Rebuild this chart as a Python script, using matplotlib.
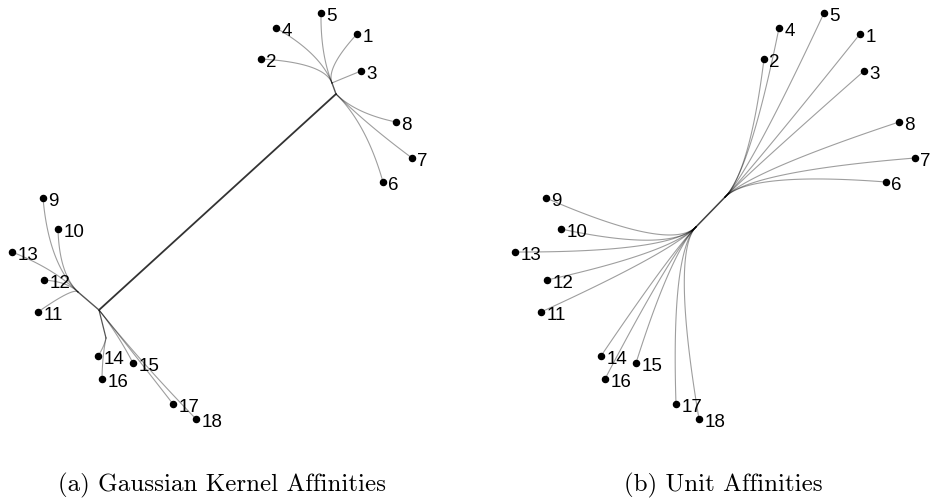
import numpy as np
import matplotlib
matplotlib.use("Agg")
from matplotlib import pyplot as plt

labels = [str(i) for i in range(1, 19)]
# embedded positions of the 18 samples (same layout in both panels)
px = [357, 261, 361, 276, 321, 383, 412, 396, 43, 58, 38, 44, 12, 98, 133, 102, 173, 196]
py = [34, 59, 71, 28, 13, 182, 158, 122, 198, 229, 312, 280, 252, 356, 363, 379, 404, 419]

# (a) gaussian kernel: internal tree nodes and where each sample hangs
hub_names_a = ["A1", "A2", "B", "B1", "B2"]
hub_x_a = [332, 336, 99, 78, 106]
hub_y_a = [83, 94, 310, 292, 338]
trunk_a = [("A1", "A2"), ("A2", "B"), ("B", "B1"), ("B", "B2")]
trunk_w_a = [1.0, 1.3, 1.0, 0.9]
parent_a = ["A1"] * 5 + ["A2"] * 3 + ["B1"] * 5 + ["B2", "B", "B2", "B", "B"]

# (b) unit affinities: one bundle between two joints
joint_x_b = [189, 226]   # lower-left, upper-right
joint_y_b = [231, 193]
side_b = [1] * 8 + [0] * 10   # 1 = hangs off the upper-right joint

captions = ["(a) Gaussian Kernel Affinities", "(b) Unit Affinities"]

EDGE = dict(color="black", alpha=0.38, lw=0.8, solid_capstyle="round")


def bezier(ctrl, n=80):
    ctrl = np.asarray(ctrl, float)
    t = np.linspace(0, 1, n)[:, None, None]
    p = np.broadcast_to(ctrl, (n,) + ctrl.shape)
    while p.shape[1] > 1:
        p = (1 - t) * p[:, :-1] + t * p[:, 1:]
    return p[:, 0, 0], p[:, 0, 1]


def unit(v):
    v = np.asarray(v, float)
    return v / np.linalg.norm(v)


def draw_points(ax):
    ax.plot(px, py, "o", color="black", ms=4.4, zorder=4)
    for lbl, x, y in zip(labels, px, py):
        ax.annotate(lbl, (x, y), xytext=(3.8, -6.1), textcoords="offset points",
                    ha="left", va="baseline", fontsize=13.5,
                    family="Liberation Sans", annotation_clip=False, zorder=5)


def draw_a(ax):
    hubs = {n: np.array([x, y], float) for n, x, y in zip(hub_names_a, hub_x_a, hub_y_a)}
    leaves = np.column_stack([px, py]).astype(float)
    for (a, b), w in zip(trunk_a, trunk_w_a):
        ax.plot([hubs[a][0], hubs[b][0]], [hubs[a][1], hubs[b][1]],
                color="#333333" if w > 1.1 else "#555555", lw=w,
                solid_capstyle="round")
    for name in hub_names_a:
        idx = [i for i, p in enumerate(parent_a) if p == name]
        if not idx:
            continue
        h = hubs[name]
        d = unit(leaves[idx].mean(axis=0) - h)
        for i in idx:
            v = leaves[i] - h
            dist = np.linalg.norm(v)
            c = max(0.0, float(np.dot(d, v / dist)))
            ctrl = h + 0.45 * dist * c * d
            xs, ys = bezier([h, ctrl, leaves[i]])
            ax.plot(xs, ys, **EDGE)


def draw_b(ax):
    lo = np.array([joint_x_b[0], joint_y_b[0]], float)
    up = np.array([joint_x_b[1], joint_y_b[1]], float)
    axis = unit(up - lo)
    leaves = np.column_stack([px, py]).astype(float)
    # shared part of the bundle
    ax.plot([lo[0], up[0]], [lo[1], up[1]], color="#404040", lw=1.1,
            solid_capstyle="round")
    for i, s in enumerate(side_b):
        if s:
            near, g = up - 6 * axis, up + 30 * axis
        else:
            near, g = lo + 6 * axis, lo - 30 * axis
        xs, ys = bezier([near, g, leaves[i]])
        ax.plot(xs, ys, **EDGE)


fig = plt.figure(figsize=(9.3, 5.0), dpi=100)
ax_a = fig.add_axes([0, 60 / 500, 427 / 930, 440 / 500])
ax_b = fig.add_axes([503 / 930, 60 / 500, 427 / 930, 440 / 500])
for ax in (ax_a, ax_b):
    ax.set_xlim(0, 427)
    ax.set_ylim(440, 0)
    ax.set_axis_off()

draw_a(ax_a)
draw_b(ax_b)
draw_points(ax_a)
draw_points(ax_b)

fig.text(222 / 930, 1 - 491 / 500, captions[0], ha="center", va="baseline",
         fontsize=18, family="cmr10")
fig.text(723 / 930, 1 - 491 / 500, captions[1], ha="center", va="baseline",
         fontsize=18, family="cmr10")

fig.savefig("out.png", dpi=100)
plt.close(fig)
